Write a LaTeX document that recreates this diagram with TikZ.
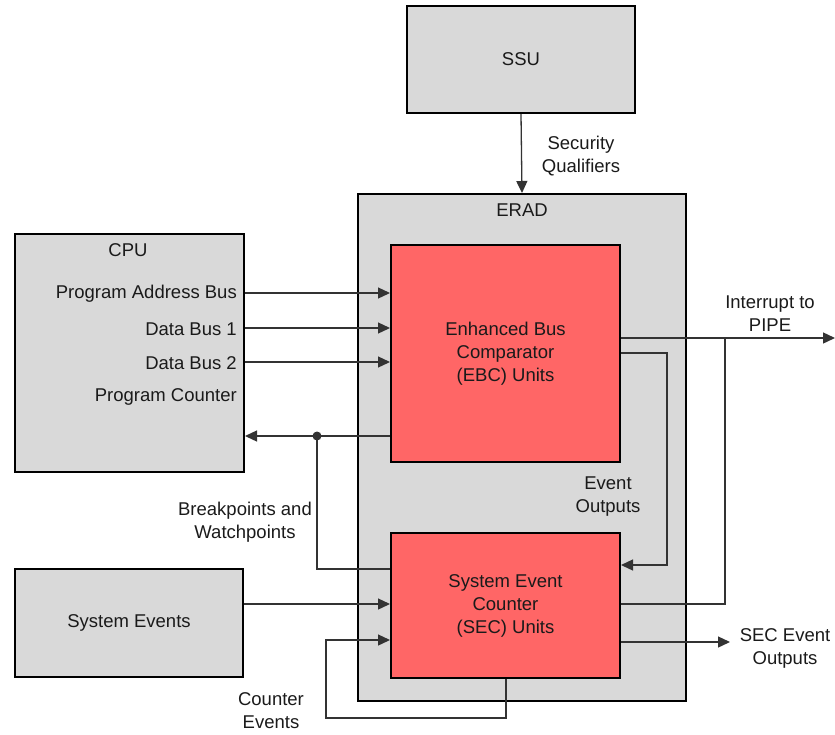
\documentclass[tikz,border=0pt]{standalone}
\usepackage{fontspec}
\setmainfont{Liberation Sans}
\usepackage{xcolor}
\usetikzlibrary{arrows.meta,positioning,calc}
\definecolor{boxgray}{RGB}{217,217,217}
\definecolor{unitred}{RGB}{255,102,102}
\definecolor{wiregray}{RGB}{51,51,51}
\definecolor{txtgray}{RGB}{26,26,26}
\tikzset{
  block/.style={rectangle, draw=black, line width=2pt, fill=boxgray,
                align=center, text=txtgray, inner sep=0pt},
  unit/.style={block, fill=unitred},
  lbl/.style={font=\fontsize{18.5}{23}\selectfont, align=center, text=txtgray,
              inner sep=0pt},
  wire/.style={wiregray, line width=1.3pt},
  arrow/.style={wire, -{Triangle[length=12pt, width=11pt]}},
}

\begin{document}
\begin{tikzpicture}[x=1pt, y=-1pt, font=\fontsize{18.5}{23}\selectfont]
  \useasboundingbox (0,0) rectangle (835,734);
  % boxes
  \node[block, minimum width=228pt, minimum height=107pt] (ssu) at (521,59.5) {SSU};
  \node[block, minimum width=328pt, minimum height=507pt] (erad) at (522,447.5) {};
  \node[lbl, below=11pt of erad.north] (eradtitle) {ERAD};
  \node[unit, minimum width=229pt, minimum height=217pt] (ebc) at (505.5,353.5)
    {Enhanced Bus\\Comparator\\(EBC) Units};
  \node[unit, minimum width=229pt, minimum height=145pt] (sec) at (505.5,605.5)
    {System Event\\Counter\\(SEC) Units};
  \node[block, minimum width=229pt, minimum height=238pt] (cpu) at (129.5,353) {};
  \node[block, minimum width=228pt, minimum height=108pt] (sysev) at (129,623) {System Events};
  % cpu signals
  \node[lbl] (cputitle) at (128,250) {CPU};
  \node[lbl, anchor=east] (pab) at (237,294) {Program Address Bus};
  \node[lbl, anchor=east] (db1) at (237,329) {Data Bus 1};
  \node[lbl, anchor=east] (db2) at (237,363) {Data Bus 2};
  \node[lbl, anchor=east] (pc) at (237,397) {Program Counter};
  % labels
  \node[lbl] (secq) at (581,156) {Security\\Qualifiers};
  \node[lbl] (intr) at (770,314) {Interrupt to\\PIPE};
  \node[lbl] (evout) at (608,497) {Event\\Outputs};
  \node[lbl] (bkpt) at (245,522) {Breakpoints and\\Watchpoints};
  \node[lbl] (cntev) at (271,711) {Counter\\Events};
  \node[lbl] (secout) at (785,648) {SEC Event\\Outputs};
  % free ends and bends
  \coordinate (intend) at (835,338);
  \coordinate (secend) at (730,642);
  \coordinate (bkdot) at (317,436);
  \coordinate (evbend) at (667,353);
  \coordinate (irqbend) at (725,604);
  \coordinate (cntbend) at (326,718);
  % connectors
  \draw[arrow] (ssu.south) -- (erad.north);
  \draw[arrow] (cpu.east |- 0,293) -- (ebc.west |- 0,293);
  \draw[arrow] (cpu.east |- 0,328) -- (ebc.west |- 0,328);
  \draw[arrow] (cpu.east |- 0,362) -- (ebc.west |- 0,362);
  \draw[arrow] (ebc.west |- bkdot) -- (cpu.east |- bkdot);
  \fill[wiregray] (bkdot) circle (4.5pt);
  \draw[wire] (bkdot) |- (sec.west |- 0,569);
  \draw[arrow] (sysev.east |- 0,604) -- (sec.west |- 0,604);
  \draw[arrow] (sec.south -| 506,0) |- (cntbend) |- (sec.west |- 0,640);
  \draw[arrow] (ebc.east |- evbend) -| (evbend |- 0,565) -- (sec.east |- 0,565);
  \draw[arrow] (ebc.east |- intend) -- (intend);
  \draw[wire] (sec.east |- irqbend) -| (irqbend |- intend);
  \draw[arrow] (sec.east |- secend) -- (secend);
\end{tikzpicture}
\end{document}
